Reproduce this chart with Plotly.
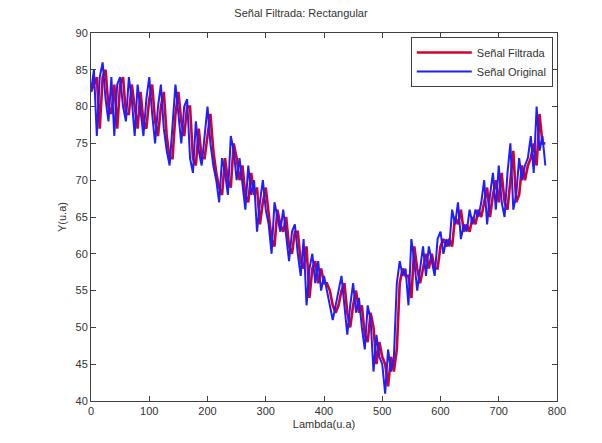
import plotly.graph_objects as go

# Wavelength axis (arbitrary units), sampled every 5 units
lambda_ua = list(range(0, 785, 5))

# Raw signal
senal_original = [
    82, 85, 76, 84, 86, 81, 78, 84, 76, 83,
    84, 80, 78, 84, 81, 76, 83, 79, 76, 81,
    84, 79, 75, 80, 83, 77, 74, 72, 78, 83,
    79, 75, 80, 81, 73, 71, 78, 74, 72, 76,
    80, 75, 72, 70, 67, 73, 71, 68, 76, 74,
    70, 73, 69, 66, 72, 68, 70, 63, 67, 70,
    66, 64, 60, 67, 65, 63, 66, 62, 59, 63,
    64, 60, 57, 62, 53, 58, 60, 56, 59, 55,
    57, 55, 53, 51, 53, 55, 57, 53, 49, 53,
    56, 52, 54, 50, 47, 53, 51, 44, 49, 46,
    45, 41, 47, 44, 46, 56, 59, 57, 58, 53,
    62, 59, 55, 58, 61, 57, 61, 59, 57, 62,
    63, 60, 62, 61, 66, 64, 67, 62, 64, 63,
    66, 64, 66, 65, 67, 70, 64, 68, 71, 66,
    72, 67, 65, 71, 75, 66, 68, 73, 70, 72,
    73, 76, 71, 80, 74, 76, 72,
]

# Signal after the rectangular-window filter (trails the raw signal slightly)
senal_filtrada = [
    82, 83, 84, 77, 84, 85, 80, 79, 83, 77,
    83, 84, 79, 79, 83, 80, 77, 82, 78, 77,
    81, 83, 78, 76, 80, 82, 76, 73, 73, 79,
    82, 78, 76, 80, 80, 73, 72, 77, 73, 73,
    76, 79, 74, 71, 69, 68, 73, 70, 69, 75,
    73, 70, 72, 68, 67, 71, 68, 69, 64, 67,
    69, 65, 62, 61, 66, 64, 63, 65, 61, 60,
    63, 63, 59, 58, 61, 54, 58, 59, 56, 58,
    56, 56, 55, 53, 52, 53, 55, 56, 52, 50,
    53, 55, 52, 53, 49, 48, 52, 50, 45, 48,
    46, 45, 42, 46, 44, 47, 56, 58, 57, 57,
    54, 61, 58, 56, 58, 60, 58, 60, 58, 58,
    61, 62, 61, 62, 61, 65, 64, 66, 63, 64,
    63, 65, 64, 66, 65, 67, 69, 65, 68, 70,
    67, 71, 67, 66, 70, 74, 67, 68, 72, 70,
    72, 73, 75, 72, 79, 75, 75,
]

x_ticks = [0, 100, 200, 300, 400, 500, 600, 700, 800]
y_ticks = [40, 45, 50, 55, 60, 65, 70, 75, 80, 85, 90]

font_family = "Liberation Sans, Arial, sans-serif"
axis_color = "#404040"
text_color = "#333333"

fig = go.Figure()
fig.add_trace(go.Scatter(
    x=lambda_ua, y=senal_filtrada, mode="lines", name="Señal Filtrada",
    line=dict(color="rgb(210,0,45)", width=2.6),
))
fig.add_trace(go.Scatter(
    x=lambda_ua, y=senal_original, mode="lines", name="Señal Original",
    line=dict(color="rgb(30,30,255)", width=2.0),
))

axis_common = dict(
    showgrid=False, zeroline=False, showline=True, linecolor=axis_color,
    linewidth=1, mirror="allticks", ticks="inside", ticklen=5,
    tickcolor=axis_color, tickfont=dict(family=font_family, size=11, color=text_color),
)

fig.update_layout(
    width=602, height=443,
    margin=dict(l=91, r=45, t=33, b=42),
    paper_bgcolor="white", plot_bgcolor="white",
    title=dict(text="Señal Filtrada: Rectangular", x=0.5, xanchor="center",
               y=1 - 13 / 443, yanchor="middle",
               font=dict(family=font_family, size=11, color=text_color)),
    xaxis=dict(range=[0, 800], tickvals=x_ticks,
               title=dict(text="Lambda(u.a)", standoff=4,
                          font=dict(family=font_family, size=11, color=text_color)),
               **axis_common),
    yaxis=dict(range=[40, 90], tickvals=y_ticks,
               title=dict(text="Y(u.a)", standoff=6,
                          font=dict(family=font_family, size=11, color=text_color)),
               **axis_common),
    legend=dict(x=0.991, y=0.989, xanchor="right", yanchor="top",
                bgcolor="white", bordercolor=axis_color, borderwidth=1,
                font=dict(family=font_family, size=11, color=text_color),
                itemwidth=55, tracegroupgap=0),
    showlegend=True,
)

fig.write_html("out.html")
